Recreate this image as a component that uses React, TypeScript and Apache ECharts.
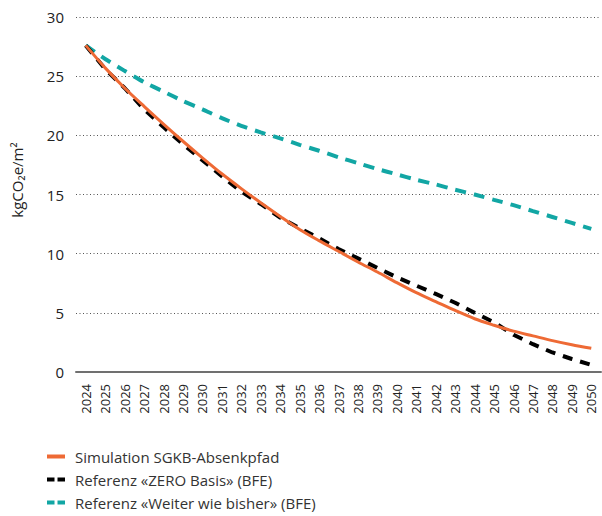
import React, { useEffect, useRef } from "react";
import * as echarts from "echarts";

const years = [
  "2024", "2025", "2026", "2027", "2028", "2029", "2030", "2031", "2032",
  "2033", "2034", "2035", "2036", "2037", "2038", "2039", "2040", "2041",
  "2042", "2043", "2044", "2045", "2046", "2047", "2048", "2049", "2050",
];

const simulationSGKB = [
  27.6, 25.7, 24.0, 22.45, 20.95, 19.5, 18.1, 16.75, 15.5, 14.3, 13.15, 12.05,
  11.1, 10.2, 9.3, 8.45, 7.55, 6.7, 5.95, 5.2, 4.5, 3.95, 3.45, 3.05, 2.65,
  2.3, 2.0,
];

const zeroBasis = [
  27.6, 25.6, 24.0, 22.2, 20.7, 19.25, 17.9, 16.55, 15.25, 14.2, 13.05, 12.15,
  11.3, 10.4, 9.6, 8.8, 8.0, 7.3, 6.6, 5.85, 5.0, 4.2, 3.15, 2.35, 1.65, 1.1,
  0.6,
];

const weiterWieBisher = [
  27.6, 26.45, 25.45, 24.5, 23.7, 22.9, 22.2, 21.45, 20.8, 20.25, 19.75, 19.2,
  18.7, 18.15, 17.65, 17.15, 16.7, 16.25, 15.85, 15.4, 15.0, 14.55, 14.1, 13.6,
  13.1, 12.6, 12.1,
];

const seriesNames = [
  "Simulation SGKB-Absenkpfad",
  "Referenz «ZERO Basis» (BFE)",
  "Referenz «Weiter wie bisher» (BFE)",
];

const yAxisTitle = "kgCO₂e/m²";

const ORANGE = "#ee6a35";
const BLACK = "#000000";
const TEAL = "#12a6a4";
const FONT = "'Open Sans', 'Noto Sans', sans-serif";

const SOLID_ICON = "path://M0,0 H18 V4 H0 Z";
const DASH_ICON = "path://M0,0 H7.5 V4 H0 Z M10.5,0 H18 V4 H10.5 Z";

function legendFor(name: string, icon: string, color: string, top: number) {
  return {
    orient: "vertical",
    left: 47,
    top,
    padding: 0,
    itemWidth: 18,
    itemHeight: 4,
    selectedMode: false,
    textStyle: { fontSize: 15, color: "#333333", fontFamily: FONT, padding: [0, 0, 0, 5] },
    data: [{ name, icon, itemStyle: { color } }],
  };
}

export default function App() {
  const ref = useRef<HTMLDivElement>(null);

  useEffect(() => {
    if (!ref.current) return;
    const chart = echarts.init(ref.current, undefined, { renderer: "svg" });
    chart.setOption({
      animation: false,
      backgroundColor: "#ffffff",
      textStyle: { fontFamily: FONT },
      grid: { left: 76, width: 525, top: 17, height: 355, containLabel: false },
      xAxis: {
        type: "category",
        data: years,
        boundaryGap: true,
        axisLine: { show: true, lineStyle: { color: "#707070", width: 2 } },
        axisTick: { show: false },
        axisLabel: {
          rotate: 90,
          margin: 12,
          fontSize: 13,
          color: "#222222",
          fontFamily: FONT,
          interval: 0,
        },
        splitLine: { show: false },
      },
      yAxis: {
        type: "value",
        min: 0,
        max: 30,
        interval: 5,
        axisLine: { show: false },
        axisTick: { show: false },
        axisLabel: { fontSize: 15, color: "#222222", margin: 12, fontFamily: FONT },
        splitLine: {
          show: true,
          lineStyle: { color: "#555555", width: 1, type: [1, 2.5] },
        },
      },
      legend: [
        legendFor(seriesNames[0], SOLID_ICON, ORANGE, 449),
        legendFor(seriesNames[1], DASH_ICON, BLACK, 472),
        legendFor(seriesNames[2], DASH_ICON, TEAL, 495),
      ],
      graphic: [
        {
          type: "text",
          x: 17,
          y: 180,
          rotation: Math.PI / 2,
          style: {
            text: yAxisTitle,
            fontSize: 15,
            fontFamily: FONT,
            fill: "#222222",
            align: "center",
            verticalAlign: "middle",
          },
        },
      ],
      series: [
        {
          name: seriesNames[2],
          type: "line",
          data: weiterWieBisher,
          symbol: "none",
          smooth: 0.2,
          lineStyle: { color: TEAL, width: 4, type: [11, 8] },
          itemStyle: { color: TEAL },
          z: 2,
        },
        {
          name: seriesNames[1],
          type: "line",
          data: zeroBasis,
          symbol: "none",
          smooth: false,
          lineStyle: { color: BLACK, width: 4, type: [10, 8] },
          itemStyle: { color: BLACK },
          z: 3,
        },
        {
          name: seriesNames[0],
          type: "line",
          data: simulationSGKB,
          symbol: "none",
          smooth: 0.3,
          lineStyle: { color: ORANGE, width: 3, type: "solid" },
          itemStyle: { color: ORANGE },
          z: 4,
        },
      ],
    });
    return () => chart.dispose();
  }, []);

  return (
    <div
      ref={ref}
      style={{ position: "absolute", left: 0, top: 0, width: 602, height: 516 }}
    />
  );
}
